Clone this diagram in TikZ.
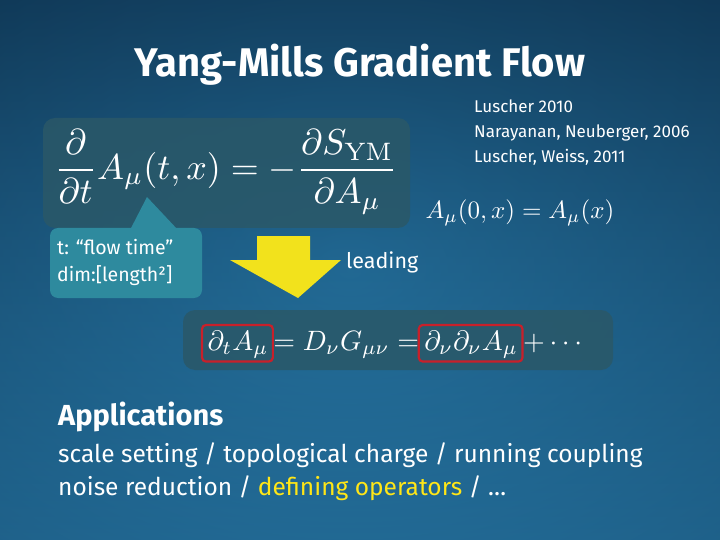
\documentclass[tikz,border=0pt]{standalone}
\usepackage{amsmath}
\usepackage{fontspec}
\setmainfont{Fira Sans}
\newfontfamily\lmr{Latin Modern Roman}
\usetikzlibrary{shadings}
\definecolor{bgA}{HTML}{0E3350}
\definecolor{bgB}{HTML}{2C86B8}
\definecolor{eqbox}{HTML}{2A5868}
\definecolor{callout}{HTML}{2E8A9E}
\definecolor{arrowy}{HTML}{F2E21C}
\definecolor{redbox}{HTML}{C8202A}
\definecolor{hl}{HTML}{FFE617}
\tikzset{
  txt/.style={text=white,inner sep=0pt},
  eqpanel/.style={fill=eqbox,fill opacity=0.85,rounded corners=12pt},
  redframe/.style={draw=redbox,line width=2.2pt,rounded corners=4pt},
  eqpart/.style={text=white,inner sep=0pt,scale=2.8,anchor=base west},
}
\begin{document}
\begin{tikzpicture}[x=1pt,y=-1pt]
\useasboundingbox (0,0) rectangle (720,540);
\shade[inner color=bgB,outer color=bgA] (-300,-200) rectangle (1000,740);
\shade[bottom color=bgB!80!bgA,top color=bgA,opacity=0.6] (0,0) rectangle (720,540);
\node[txt,font=\bfseries\fontsize{40}{46}\selectfont] (title) at (360,65) {Yang-Mills Gradient Flow};
\node[txt,anchor=west,align=left,font=\fontsize{17}{25}\selectfont] (refs) at (474,133) {Luscher 2010\\Narayanan, Neuberger, 2006\\Luscher, Weiss, 2011};
\fill[eqpanel] (43,118) rectangle (410,228);
\node[txt,scale=3.6] (eq1) at (226,172) {$\displaystyle\frac{\partial}{\partial t}A_\mu(t,x)=-\frac{\partial S_{\text{\lmr YM}}}{\partial A_\mu}$};
\node[txt,scale=2.5] (init) at (520,213) {$A_\mu(0,x)=A_\mu(x)$};
\fill[callout] (130,230) -- (147,197) -- (178,230) -- cycle;
\fill[callout,rounded corners=8pt] (50,228) rectangle (202,298);
\node[txt,anchor=west,align=left,font=\fontsize{19.5}{27}\selectfont] (note) at (57,262) {t: “flow time”\\dim:[length²]};
\fill[arrowy] (257,236) -- (310,236) -- (310,260) -- (341,260) -- (298,298) -- (230,260) -- (257,260) -- cycle;
\node[txt,anchor=west,font=\fontsize{21.5}{24}\selectfont] (lead) at (346,262) {leading};
\fill[eqpanel] (183,310) rectangle (613,370);
\node[eqpart] (ea) at (207,350) {$\partial_t A_\mu$};
\node[eqpart] (eb) at ([xshift=4pt]ea.base east) {$=D_\nu G_{\mu\nu}=$};
\node[eqpart] (ec) at ([xshift=4pt]eb.base east) {$\partial_\nu\partial_\nu A_\mu$};
\node[eqpart] (ed) at ([xshift=4pt]ec.base east) {$+\cdots$};
\draw[redframe] ([shift={(-5pt,5pt)}]ea.north west) rectangle ([shift={(4pt,-3pt)}]ea.south east);
\draw[redframe] ([shift={(-5pt,5pt)}]ec.north west) rectangle ([shift={(4pt,-3pt)}]ec.south east);
\node[txt,anchor=west,font=\bfseries\fontsize{29}{34}\selectfont] (app) at (58,417) {Applications};
\node[txt,anchor=west,align=left,font=\fontsize{24.5}{33}\selectfont] (list) at (58,472) {scale setting / topological charge / running coupling\\noise reduction / \textcolor{hl}{defining operators} / …};
\end{tikzpicture}
\end{document}
